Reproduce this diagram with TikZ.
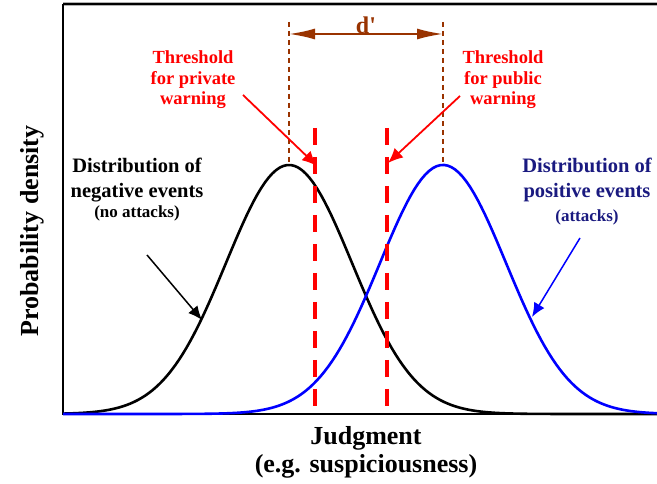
\documentclass[tikz,border=0pt]{standalone}
\usepackage{fontspec}
\setmainfont{Liberation Serif}
\usetikzlibrary{arrows.meta}
\definecolor{sdtbrown}{HTML}{993300}
\definecolor{sdtnavy}{HTML}{1A1A80}
\newcommand{\sdtgauss}[1]{70+249*exp(-0.5*((\x-#1)/63)^2)}
\begin{document}
\begin{tikzpicture}[x=1pt,y=1pt,>=Latex,
  lbl/.style={font=\bfseries\fontsize{20.5}{25}\selectfont,align=center,inner sep=0pt},
  sub/.style={font=\bfseries\fontsize{17}{20}\selectfont,align=center,inner sep=0pt},
  thr/.style={font=\bfseries\fontsize{18.5}{20.5}\selectfont,text=red,align=center,inner sep=0pt},
  axlbl/.style={font=\bfseries\fontsize{26}{28}\selectfont,align=center,inner sep=0pt},
  curve/.style={line width=2.6pt,line join=round},
  crit/.style={red,line width=4pt,dash pattern=on 17pt off 12pt},
  mean/.style={sdtbrown,line width=1.5pt,dash pattern=on 5pt off 4pt},
  pnt/.style={-{Latex[length=15pt,width=13pt]},line width=1.8pt}]
\path[use as bounding box] (0,0) rectangle (657,484);
\fill[white] (0,0) rectangle (657,484);
\coordinate (top) at (63,480);
\coordinate (topend) at (657,480);
\coordinate (origin) at (63,70);
\coordinate (xend) at (657,70);
\draw[gray!60,line width=3.5pt] (top)--(topend);
\draw[line width=1.6pt] (top)--(topend);
\draw[line width=2pt] (top)--(origin)--(xend);
\draw[curve] plot[domain=63:657,samples=160] (\x,{\sdtgauss{289}});
\draw[curve,blue] plot[domain=63:657,samples=160] (\x,{\sdtgauss{443}});
\coordinate (negpeak) at (289,319);
\coordinate (negtop) at (289,462);
\coordinate (pospeak) at (443,319);
\coordinate (postop) at (443,462);
\draw[mean] (negtop)--(negpeak);
\draw[mean] (postop)--(pospeak);
\coordinate (dl) at (289,450);
\coordinate (dr) at (443,450);
\draw[sdtbrown,line width=2pt,{Latex[length=26pt,width=11pt]}-{Latex[length=26pt,width=11pt]}] (dl)--(dr);
\node[font=\bfseries\fontsize{24}{28}\selectfont,text=sdtbrown] (dprime) at (366,459) {d\textquotesingle};
\coordinate (privtop) at (315,356);
\coordinate (privbot) at (315,70);
\coordinate (pubtop) at (387,356);
\coordinate (pubbot) at (387,70);
\draw[crit] (privtop)--(privbot);
\draw[crit] (pubtop)--(pubbot);
\node[thr] (privlbl) at (193,404) {Threshold\\for private\\warning};
\node[thr] (publbl) at (503,404) {Threshold\\for public\\warning};
\coordinate (privtail) at (243,389);
\coordinate (privtip) at (317,318);
\coordinate (pubtail) at (460,388);
\coordinate (pubtip) at (388,321);
\draw[pnt,red] (privtail)--(privtip);
\draw[pnt,red] (pubtail)--(pubtip);
\node[lbl] (neglbl) at (137,304) {Distribution of\\negative events};
\node[sub] (negsub) at (137,271) {(no attacks)};
\node[lbl,text=sdtnavy] (poslbl) at (587,304) {Distribution of\\positive events};
\node[sub,text=sdtnavy] (possub) at (587,267) {(attacks)};
\coordinate (negtail) at (147,229);
\coordinate (negtip) at (202,164);
\coordinate (postail) at (580,246);
\coordinate (postip) at (532,167);
\draw[-{Latex[length=14pt,width=12pt]},line width=1.5pt] (negtail)--(negtip);
\draw[-{Latex[length=14pt,width=12pt]},line width=1.5pt,blue] (postail)--(postip);
\node[axlbl] (xlab) at (366,32) {Judgment\\(e.g. suspiciousness)};
\node[axlbl,rotate=90] (ylab) at (32,253) {Probability density};
\end{tikzpicture}
\end{document}
